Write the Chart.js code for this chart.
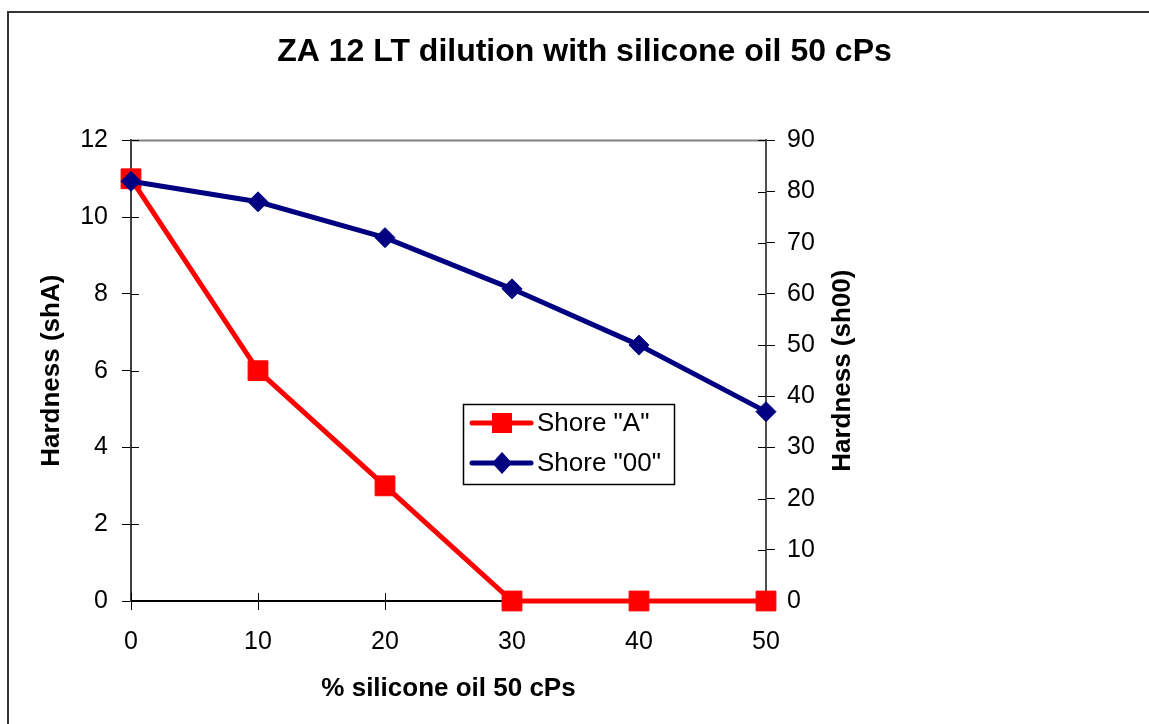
<!DOCTYPE html>
<html>
<head>
<meta charset="utf-8">
<title>ZA 12 LT dilution</title>
<script src="https://cdn.jsdelivr.net/npm/chart.js@4.4.1/dist/chart.umd.min.js"></script>
<style>
  html, body { margin: 0; padding: 0; background: #fff; overflow: hidden; }
  #wrap { position: relative; width: 1149px; height: 724px; overflow: hidden; }
  #frame { position: absolute; left: 7px; top: 11px; width: 1300px; height: 900px;
           border-left: 2px solid #333; border-top: 2px solid #333; pointer-events: none; }
  canvas { position: absolute; left: 0; top: 0; }
</style>
</head>
<body>
<div id="wrap">
  <canvas id="chart" width="1149" height="724"></canvas>
  <div id="frame"></div>
</div>
<script>
// values
const percentOil = [0, 10, 20, 30, 40, 50];
const shoreA = [11, 6, 3, 0, 0, 0];
const shore00 = [82, 78, 71, 61, 50, 37];
const seriesNames = ['Shore "A"', 'Shore "00"'];

const xRange = [0, 50, 10];
const leftRange = [0, 12, 2];
const rightRange = [0, 90, 10];

const FONT = "'Liberation Sans', Arial, sans-serif";

function toPoints(ys) {
  return percentOil.map((x, i) => ({ x: x, y: ys[i] }));
}

// ticks crossing the axis, top border of the plot, right title, legend
const extras = {
  id: 'extras',
  beforeDatasetsDraw(chart) {
    const ctx = chart.ctx;
    const a = chart.chartArea;
    const sx = chart.scales.x, sy = chart.scales.y, sy2 = chart.scales.y2;
    ctx.save();
    ctx.strokeStyle = '#808080';
    ctx.lineWidth = 2;
    ctx.beginPath();
    ctx.moveTo(a.left, a.top);
    ctx.lineTo(a.right, a.top);
    ctx.stroke();

    ctx.strokeStyle = '#000';
    ctx.lineWidth = 1;
    ctx.beginPath();
    sy.ticks.forEach(t => {
      const p = Math.round(sy.getPixelForValue(t.value)) + 0.5;
      ctx.moveTo(a.left, p); ctx.lineTo(a.left + 8, p);
    });
    sy2.ticks.forEach(t => {
      const p = Math.round(sy2.getPixelForValue(t.value)) + 0.5;
      ctx.moveTo(a.right, p); ctx.lineTo(a.right - 8, p);
    });
    sx.ticks.forEach(t => {
      const p = Math.round(sx.getPixelForValue(t.value)) + 0.5;
      ctx.moveTo(p, a.bottom); ctx.lineTo(p, a.bottom - 8);
    });
    ctx.stroke();
    ctx.restore();
  },
  afterDraw(chart) {
    const ctx = chart.ctx;
    const a = chart.chartArea;
    ctx.save();
    // right axis title reads upward like the left one
    ctx.translate(843, (a.top + a.bottom) / 2);
    ctx.rotate(-Math.PI / 2);
    ctx.fillStyle = '#000';
    ctx.font = 'bold 26px ' + FONT;
    ctx.textAlign = 'center';
    ctx.textBaseline = 'middle';
    ctx.fillText('Hardness (sh00)', 0, 0);
    ctx.restore();

    // legend box
    const bx = 463.5, by = 404.5, bw = 211, bh = 80;
    ctx.save();
    ctx.fillStyle = '#fff';
    ctx.fillRect(bx, by, bw, bh);
    ctx.strokeStyle = '#000';
    ctx.lineWidth = 1.5;
    ctx.strokeRect(bx, by, bw, bh);
    const rows = [423, 463];
    chart.data.datasets.forEach((ds, i) => {
      const y = rows[i];
      ctx.strokeStyle = ds.borderColor;
      ctx.lineWidth = 5;
      ctx.lineCap = 'round';
      ctx.beginPath();
      ctx.moveTo(472, y); ctx.lineTo(531, y);
      ctx.stroke();
      ctx.fillStyle = ds.pointBackgroundColor;
      ctx.beginPath();
      if (ds.pointStyle === 'rect') {
        ctx.rect(492, y - 10, 20, 20);
      } else {
        ctx.moveTo(502, y - 11); ctx.lineTo(512, y); ctx.lineTo(502, y + 11); ctx.lineTo(492, y);
        ctx.closePath();
      }
      ctx.fill();
      ctx.fillStyle = '#000';
      ctx.font = '26px ' + FONT;
      ctx.textAlign = 'left';
      ctx.textBaseline = 'middle';
      ctx.fillText(ds.label, 537, y + 1);
    });
    ctx.restore();
  }
};

new Chart(document.getElementById('chart'), {
  type: 'line',
  data: {
    datasets: [
      {
        label: seriesNames[0],
        data: toPoints(shoreA),
        yAxisID: 'y',
        borderColor: '#ff0000',
        backgroundColor: '#ff0000',
        pointBackgroundColor: '#ff0000',
        pointBorderColor: '#ff0000',
        borderWidth: 5,
        pointStyle: 'rect',
        pointRadius: 14,
        pointBorderWidth: 1,
        pointHoverRadius: 14,
        tension: 0,
        clip: false,
        order: 2
      },
      {
        label: seriesNames[1],
        data: toPoints(shore00),
        yAxisID: 'y2',
        borderColor: '#000080',
        backgroundColor: '#000080',
        pointBackgroundColor: '#000080',
        pointBorderColor: '#000080',
        borderWidth: 5,
        pointStyle: 'rectRot',
        pointRadius: 10,
        pointBorderWidth: 1,
        pointHoverRadius: 10,
        tension: 0,
        clip: false,
        order: 1
      }
    ]
  },
  options: {
    responsive: false,
    animation: false,
    events: [],
    layout: { padding: { left: 20, right: 0, top: 0, bottom: 0 } },
    plugins: {
      legend: { display: false },
      tooltip: { enabled: false },
      title: {
        display: true,
        text: 'ZA 12 LT dilution with silicone oil 50 cPs',
        color: '#000',
        font: { family: FONT, size: 32, weight: 'bold', lineHeight: 1.2 },
        padding: { top: 33, bottom: 69 }
      }
    },
    scales: {
      x: {
        type: 'linear',
        position: 'bottom',
        min: xRange[0], max: xRange[1],
        ticks: { stepSize: xRange[2], color: '#000', padding: 17,
                 font: { family: FONT, size: 25 } },
        grid: { drawOnChartArea: false, drawTicks: true, tickLength: 9, color: '#000', lineWidth: 1 },
        border: { display: true, color: '#000', width: 2 },
        title: { display: true, text: '% silicone oil 50 cPs', color: '#000',
                 font: { family: FONT, size: 26, weight: 'bold', lineHeight: 1.2 },
                 padding: { top: 0, bottom: 20 } },
        afterFit(s) { s.height = 123; }
      },
      y: {
        type: 'linear',
        position: 'left',
        min: leftRange[0], max: leftRange[1],
        ticks: { stepSize: leftRange[2], color: '#000', padding: 14,
                 font: { family: FONT, size: 25 } },
        grid: { drawOnChartArea: false, drawTicks: true, tickLength: 9, color: '#000', lineWidth: 1 },
        border: { display: true, color: '#404040', width: 2 },
        title: { display: true, text: 'Hardness (shA)', color: '#000',
                 font: { family: FONT, size: 26, weight: 'bold', lineHeight: 1.2 },
                 padding: { top: 16, bottom: 0 } },
        afterFit(s) { s.width = 111; }
      },
      y2: {
        type: 'linear',
        position: 'right',
        min: rightRange[0], max: rightRange[1],
        ticks: { stepSize: rightRange[2], color: '#000', padding: 12,
                 font: { family: FONT, size: 25 } },
        grid: { drawOnChartArea: false, drawTicks: true, tickLength: 9, color: '#000', lineWidth: 1 },
        border: { display: true, color: '#505050', width: 2 },
        title: { display: false },
        afterFit(s) { s.width = 383; }
      }
    }
  },
  plugins: [extras]
});
</script>
</body>
</html>
